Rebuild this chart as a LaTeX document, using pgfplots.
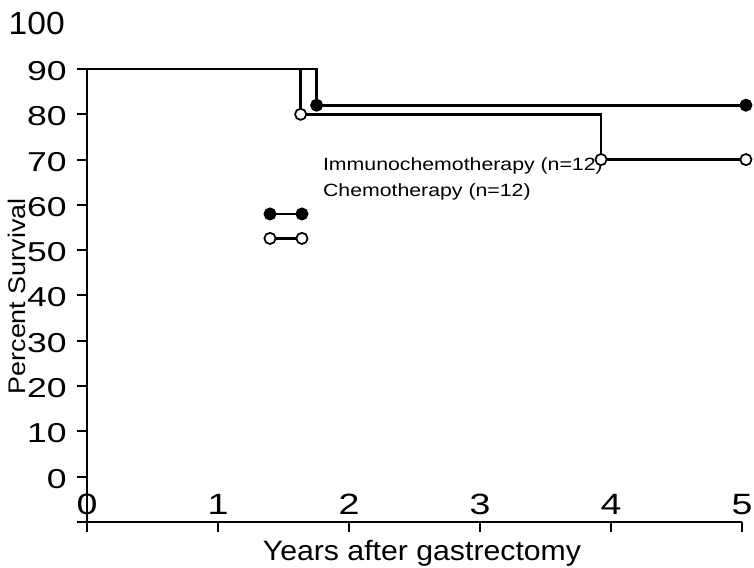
\documentclass[border=0pt]{standalone}
\usepackage{fontspec}
\setmainfont{Liberation Sans}
\newfontfamily\fyt[FakeStretch=1.3]{Liberation Sans}
\newfontfamily\fhund[FakeStretch=1.05]{Liberation Sans}
\newfontfamily\fxt[FakeStretch=1.28]{Liberation Sans}
\newfontfamily\fxl[FakeStretch=1.08]{Liberation Sans}
\newfontfamily\fyl[FakeStretch=1.12]{Liberation Sans}
\newfontfamily\fleg[FakeStretch=1.2]{Liberation Sans}
\usepackage{pgfplots}
\pgfplotsset{compat=1.18}
\begin{document}
\begin{tikzpicture}
\useasboundingbox (-65.25pt,-34.5pt) rectangle (500.25pt,391.5pt);
\begin{axis}[
  scale only axis, width=491.25pt, height=339.75pt,
  xmin=0, xmax=5, ymin=-10, ymax=90,
  axis x line*=bottom, axis y line*=left,
  xtick={0,1,2,3,4,5},
  ytick={-10,0,10,20,30,40,50,60,70,80,90},
  yticklabels={,0,10,20,30,40,50,60,70,80,90},
  tick align=outside, major tick length=7.5pt,
  every tick/.style={line width=1.5pt, black},
  axis line style={line width=1.9pt, black},
  clip=false,
  /pgf/number format/assume math mode=true,
  yticklabel style={font={\fyt\fontsize{20.5pt}{22pt}\selectfont}, anchor=east, xshift=-4.2pt, yshift=-1.5pt},
  xticklabel style={font={\fxt\fontsize{22pt}{24pt}\selectfont}, anchor=base, yshift=13.5pt},
]
% Immunochemotherapy
\addplot[const plot, line width=1.9pt, black] coordinates {(0,90) (1.753,90) (1.753,82) (5.03,82)};
% Chemotherapy
\addplot[const plot, line width=1.9pt, black] coordinates {(0,90) (1.631,90) (1.631,80) (3.924,80) (3.924,70) (5.03,70)};
% censor marks
\addplot[only marks, mark=*, mark size=4.2pt, mark options={fill=black, line width=1.3pt}] coordinates {(1.753,82) (5.03,82)};
\addplot[only marks, mark=*, mark size=4.2pt, mark options={fill=white, draw=black, line width=1.3pt}] coordinates {(1.631,80) (3.924,70) (5.03,70)};
% legend keys
\addplot[line width=1.9pt, black, mark=*, mark size=4.2pt, mark options={fill=black, line width=1.3pt}] coordinates {(1.397,58) (1.641,58)};
\addplot[line width=1.9pt, black, mark=*, mark size=4.2pt, mark options={fill=white, draw=black, line width=1.3pt}] coordinates {(1.397,52.6) (1.641,52.6)};
\node[anchor=west, inner sep=0pt, font={\fleg\fontsize{13.3pt}{15pt}\selectfont}] at (axis cs:1.80,68.6) {Immunochemotherapy (n=12)};
\node[anchor=west, inner sep=0pt, font={\fleg\fontsize{13.3pt}{15pt}\selectfont}] at (axis cs:1.80,62.8) {Chemotherapy (n=12)};
\node[anchor=east, inner sep=0pt, xshift=-16.5pt, font={\fhund\fontsize{24pt}{26pt}\selectfont}] at (axis cs:0,100) {100};
\node[anchor=base, inner sep=0pt, yshift=-28.5pt, font={\fxl\fontsize{21pt}{23pt}\selectfont}] at (axis cs:2.557,-10) {Years after gastrectomy};
\path (axis cs:0,39.8) ++(-45.75pt,0pt) node[anchor=base, rotate=90, inner sep=0pt, font={\fyl\fontsize{18pt}{20pt}\selectfont}] {Percent Survival};
\end{axis}
\end{tikzpicture}
\end{document}
